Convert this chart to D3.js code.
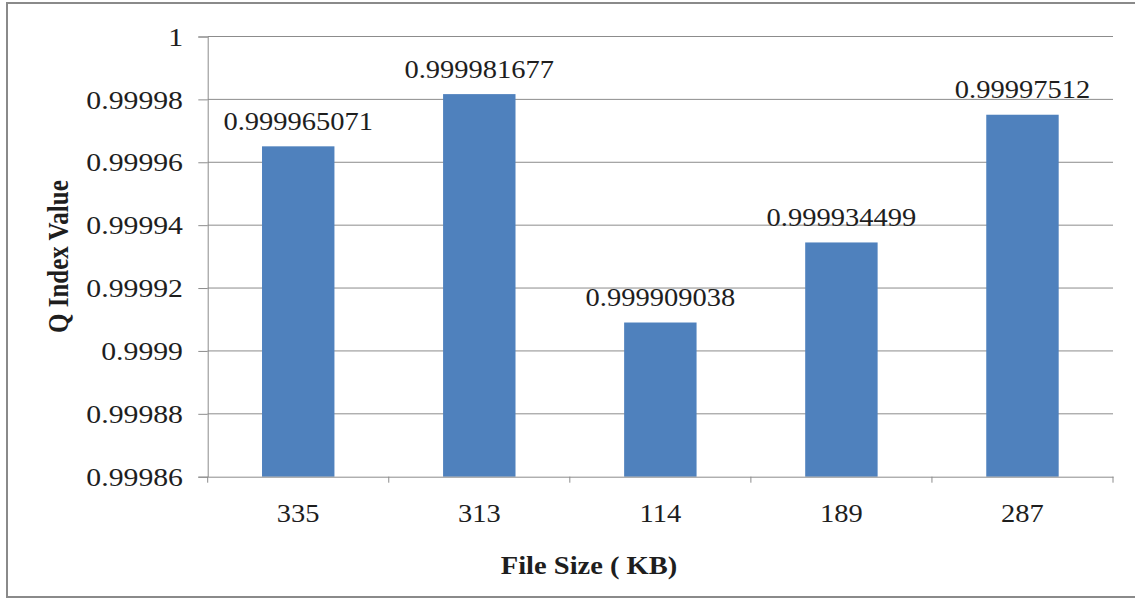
<!DOCTYPE html>
<html>
<head>
<meta charset="utf-8">
<script src="https://cdn.jsdelivr.net/npm/d3@7"></script>
<style>
  html, body { margin: 0; padding: 0; background: #fff; }
  svg { display: block; }
  text { font-family: "Liberation Serif", "Times New Roman", serif; fill: #1e1e1e; }
</style>
</head>
<body>
<svg id="chart" width="1135" height="600"></svg>
<script>
const categories = ["335", "313", "114", "189", "287"];
const values = [0.999965071, 0.999981677, 0.999909038, 0.999934499, 0.99997512];
const valueLabels = ["0.999965071", "0.999981677", "0.999909038", "0.999934499", "0.99997512"];
const yTicks = [0.99986, 0.99988, 0.9999, 0.99992, 0.99994, 0.99996, 0.99998, 1];
const yTickLabels = ["0.99986", "0.99988", "0.9999", "0.99992", "0.99994", "0.99996", "0.99998", "1"];
const xTitle = "File Size ( KB)";
const yTitle = "Q Index Value";

const SX = 1.14; // horizontal stretch of text
const SXY = 1.19;
const svg = d3.select("#chart");
const plotL = 207.7, plotR = 1113, plotT = 36.5, plotB = 476.7;

svg.append("rect")
  .attr("x", 7).attr("y", 3).attr("width", 1140).attr("height", 594)
  .attr("fill", "#fff").attr("stroke", "#8a8a8a").attr("stroke-width", 2);

const x = d3.scaleBand().domain(categories).range([plotL, plotR])
  .paddingInner(0.6).paddingOuter(0.3);
const y = d3.scaleLinear().domain([0.99986, 1]).range([plotB, plotT]);

// gridlines
svg.append("g").selectAll("line").data(yTicks.slice(1)).join("line")
  .attr("x1", plotL).attr("x2", plotR)
  .attr("y1", d => y(d)).attr("y2", d => y(d))
  .attr("stroke", "#8c8c8c").attr("stroke-width", 1);

// y axis
const yAxis = svg.append("g").attr("transform", `translate(${plotL},0)`)
  .call(d3.axisLeft(y).tickValues(yTicks).tickSize(9.4)
    .tickFormat((d, i) => yTickLabels[i]));
yAxis.select(".domain").attr("stroke", "#8c8c8c").attr("stroke-width", 1);
yAxis.selectAll(".tick line").attr("stroke", "#8c8c8c");
yAxis.selectAll(".tick text")
  .attr("x", null).attr("dy", null)
  .attr("y", 8.7)
  .attr("text-anchor", "end")
  .attr("font-size", 25)
  .attr("transform", `translate(-24.7,0) scale(${SXY},1)`)
  .style("fill", "#1e1e1e");

// bars
svg.append("g").selectAll("rect").data(values).join("rect")
  .attr("x", (d, i) => x(categories[i]))
  .attr("width", x.bandwidth())
  .attr("y", d => y(d))
  .attr("height", d => plotB - y(d))
  .attr("fill", "#4F81BD");

// x axis
const xAxis = svg.append("g").attr("transform", `translate(0,${plotB})`)
  .call(d3.axisBottom(x).tickSize(0).tickSizeOuter(0));
xAxis.select(".domain").attr("stroke", "#8c8c8c").attr("stroke-width", 1);
xAxis.selectAll(".tick text")
  .attr("y", null).attr("dy", null)
  .attr("font-size", 25)
  .attr("transform", `translate(0,45) scale(${SX},1)`)
  .style("fill", "#1e1e1e");
const bounds = categories.map(c => x(c) + x.bandwidth() / 2 - x.step() / 2);
bounds.push(x(categories[categories.length - 1]) + x.bandwidth() / 2 + x.step() / 2);
xAxis.append("g").selectAll("line").data(bounds).join("line")
  .attr("x1", d => d).attr("x2", d => d)
  .attr("y1", 0).attr("y2", 6)
  .attr("stroke", "#8c8c8c");

// data labels
svg.append("g").selectAll("text").data(values).join("text")
  .attr("transform", (d, i) =>
    `translate(${x(categories[i]) + x.bandwidth() / 2},${y(d) - 16.5}) scale(${SX},1)`)
  .attr("text-anchor", "middle")
  .attr("font-size", 25)
  .text((d, i) => valueLabels[i]);

// axis titles
svg.append("text")
  .attr("transform", `translate(589,574) scale(${SX},1)`)
  .attr("text-anchor", "middle")
  .attr("font-size", 25).attr("font-weight", "bold")
  .text(xTitle);

svg.append("text")
  .attr("transform", `translate(68,${(plotT + plotB) / 2}) scale(${SX},1) rotate(-90)`)
  .attr("text-anchor", "middle")
  .attr("font-size", 25).attr("font-weight", "bold")
  .text(yTitle);
</script>
</body>
</html>
